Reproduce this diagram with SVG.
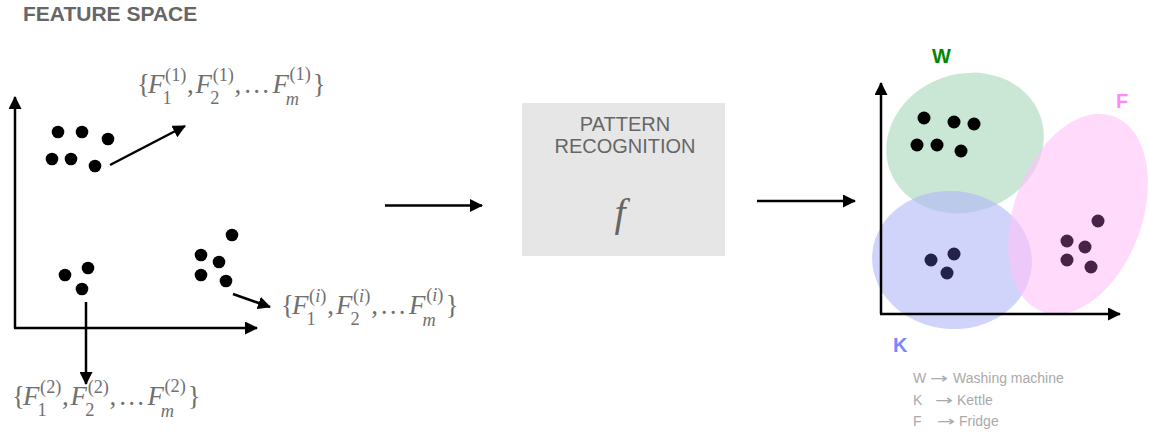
<svg xmlns="http://www.w3.org/2000/svg" width="1149" height="434" viewBox="0 0 1149 434">
<style>
.ttl{font-family:"Liberation Sans",Arial,sans-serif;font-weight:bold;font-size:21px;fill:#666}
.box{fill:#e6e6e6}
.boxt{font-family:"Liberation Sans",Arial,sans-serif;font-size:20px;fill:#666;text-anchor:middle}
.fn{font-family:"Liberation Serif","Times New Roman",serif;font-style:italic;font-size:40px;fill:#666;text-anchor:middle}
.m{font-family:"Liberation Serif","Times New Roman",serif;font-size:22px;fill:#707070}
.mi{font-style:italic}
.s{font-size:15px}
.ax{stroke:#000;stroke-width:2.5;fill:none}
.dot{fill:#000}
.kd{fill:#22224a}
.fd{fill:#4a2248}
.lab{font-family:"Liberation Sans",Arial,sans-serif;font-weight:bold;font-size:20px}
.leg{font-family:"Liberation Sans",Arial,sans-serif;font-size:14px;fill:#aaa}
.arr{font-family:"DejaVu Sans",sans-serif;font-size:14px;fill:#aaa}
</style>
<defs>
<marker id="ah" markerUnits="userSpaceOnUse" markerWidth="13" markerHeight="13" refX="12" refY="6.5" orient="auto">
<path d="M0,0 L13,6.5 L0,13 z" fill="#000"/>
</marker>
</defs>

<text class="ttl" x="23" y="21">FEATURE SPACE</text>

<!-- left feature space -->
<g id="left-axes">
<line class="ax" x1="15" y1="328" x2="15" y2="97" marker-end="url(#ah)"/>
<line class="ax" x1="14" y1="328" x2="257" y2="328" marker-end="url(#ah)"/>
</g>
<g id="cluster1">
<circle class="dot" cx="58" cy="132" r="6.3"/>
<circle class="dot" cx="82" cy="132" r="6.3"/>
<circle class="dot" cx="108" cy="139" r="6.3"/>
<circle class="dot" cx="52" cy="159" r="6.3"/>
<circle class="dot" cx="71" cy="159" r="6.3"/>
<circle class="dot" cx="95" cy="166" r="6.3"/>
</g>
<g id="cluster2">
<circle class="dot" cx="65" cy="275" r="6.3"/>
<circle class="dot" cx="88" cy="268" r="6.3"/>
<circle class="dot" cx="82" cy="289" r="6.3"/>
</g>
<g id="cluster3">
<circle class="dot" cx="232" cy="235" r="6.3"/>
<circle class="dot" cx="201" cy="255" r="6.3"/>
<circle class="dot" cx="219" cy="262" r="6.3"/>
<circle class="dot" cx="201" cy="275" r="6.3"/>
<circle class="dot" cx="226" cy="281" r="6.3"/>
</g>

<g id="connectors">
<line class="ax" x1="110" y1="165" x2="185" y2="126" marker-end="url(#ah)"/>
<line class="ax" x1="86" y1="302" x2="86" y2="384" marker-end="url(#ah)"/>
<line class="ax" x1="233" y1="294" x2="270" y2="307" marker-end="url(#ah)"/>
<line class="ax" x1="385" y1="205.5" x2="482" y2="205.5" marker-end="url(#ah)"/>
<line class="ax" x1="757" y1="201" x2="855" y2="201" marker-end="url(#ah)"/>
</g>

<!-- feature vectors -->
<g id="vec1" transform="translate(137,93) scale(1.22)">
<text class="m" x="0" y="0">{</text>
<text class="m mi" x="9" y="0">F</text>
<text class="m s" x="23" y="-10">(1)</text>
<text class="m s" x="21" y="9">1</text>
<text class="m" x="41" y="0">,</text>
<text class="m mi" x="48" y="0">F</text>
<text class="m s" x="62" y="-10">(1)</text>
<text class="m s" x="60" y="9">2</text>
<text class="m" x="80" y="0">,</text>
<text class="m" x="87" y="0">…</text>
<text class="m mi" x="111" y="0">F</text>
<text class="m s" x="125" y="-11">(1)</text>
<text class="m s mi" x="122" y="10">m</text>
<text class="m" x="144" y="0">}</text>
</g>
<g id="vec2" transform="translate(12,405) scale(1.22)">
<text class="m" x="0" y="0">{</text>
<text class="m mi" x="9" y="0">F</text>
<text class="m s" x="23" y="-10">(2)</text>
<text class="m s" x="21" y="9">1</text>
<text class="m" x="41" y="0">,</text>
<text class="m mi" x="48" y="0">F</text>
<text class="m s" x="62" y="-10">(2)</text>
<text class="m s" x="60" y="9">2</text>
<text class="m" x="80" y="0">,</text>
<text class="m" x="87" y="0">…</text>
<text class="m mi" x="111" y="0">F</text>
<text class="m s" x="125" y="-11">(2)</text>
<text class="m s mi" x="122" y="10">m</text>
<text class="m" x="144" y="0">}</text>
</g>
<g id="veci" transform="translate(281,314) scale(1.22)">
<text class="m" x="0" y="0">{</text>
<text class="m mi" x="9" y="0">F</text>
<text class="m s" x="23" y="-10">(<tspan class="mi">i</tspan>)</text>
<text class="m s" x="21" y="9">1</text>
<text class="m" x="38" y="0">,</text>
<text class="m mi" x="45" y="0">F</text>
<text class="m s" x="59" y="-10">(<tspan class="mi">i</tspan>)</text>
<text class="m s" x="57" y="9">2</text>
<text class="m" x="74" y="0">,</text>
<text class="m" x="81" y="0">…</text>
<text class="m mi" x="105" y="0">F</text>
<text class="m s" x="119" y="-11">(<tspan class="mi">i</tspan>)</text>
<text class="m s mi" x="116" y="10">m</text>
<text class="m" x="135" y="0">}</text>
</g>

<!-- pattern recognition box -->
<g id="pattern-recognition">
<rect class="box" x="522" y="103" width="203" height="153"/>
<text class="boxt" x="625" y="131">PATTERN</text>
<text class="boxt" x="625" y="153">RECOGNITION</text>
<text class="fn" x="620" y="226">f</text>
</g>

<!-- right: clustered space -->
<g id="clusters">
<ellipse cx="965" cy="143" rx="80" ry="69" transform="rotate(-20 965 143)" fill="#a7d7bb" fill-opacity="0.6"/>
<ellipse cx="952" cy="260" rx="80" ry="69" transform="rotate(5 952 260)" fill="#b1b7f7" fill-opacity="0.6"/>
<ellipse cx="1078" cy="214" rx="64" ry="104" transform="rotate(20 1078 214)" fill="#ffc1f8" fill-opacity="0.6"/>
</g>
<g id="right-axes">
<line class="ax" x1="881" y1="314" x2="881" y2="83" marker-end="url(#ah)"/>
<line class="ax" x1="880" y1="314" x2="1120" y2="314" marker-end="url(#ah)"/>
</g>
<g id="W">
<circle class="dot" cx="924" cy="118" r="6.5"/>
<circle class="dot" cx="954" cy="122" r="6.5"/>
<circle class="dot" cx="974" cy="124" r="6.5"/>
<circle class="dot" cx="917" cy="145" r="6.5"/>
<circle class="dot" cx="937" cy="145" r="6.5"/>
<circle class="dot" cx="961" cy="151" r="6.5"/>
<text class="lab" x="932" y="63" fill="#008800">W</text>
</g>
<g id="K">
<circle class="kd" cx="931" cy="260" r="6.5"/>
<circle class="kd" cx="954" cy="254" r="6.5"/>
<circle class="kd" cx="947" cy="273" r="6.5"/>
<text class="lab" x="893" y="352" fill="#7b86ff">K</text>
</g>
<g id="F">
<circle class="fd" cx="1098" cy="221" r="6.5"/>
<circle class="fd" cx="1067" cy="241" r="6.5"/>
<circle class="fd" cx="1085" cy="247" r="6.5"/>
<circle class="fd" cx="1067" cy="260" r="6.5"/>
<circle class="fd" cx="1091" cy="267" r="6.5"/>
<text class="lab" x="1116" y="108" fill="#ff88ff">F</text>
</g>

<g id="legend">
<text class="leg" x="913" y="383">W</text>
<text class="arr" x="930" y="383" textLength="18" lengthAdjust="spacingAndGlyphs">→</text>
<text class="leg" x="953" y="383">Washing machine</text>
<text class="leg" x="913" y="405">K</text>
<text class="arr" x="935" y="405" textLength="18" lengthAdjust="spacingAndGlyphs">→</text>
<text class="leg" x="957" y="405">Kettle</text>
<text class="leg" x="913" y="426">F</text>
<text class="arr" x="937" y="426" textLength="18" lengthAdjust="spacingAndGlyphs">→</text>
<text class="leg" x="959" y="426">Fridge</text>
</g>
</svg>
